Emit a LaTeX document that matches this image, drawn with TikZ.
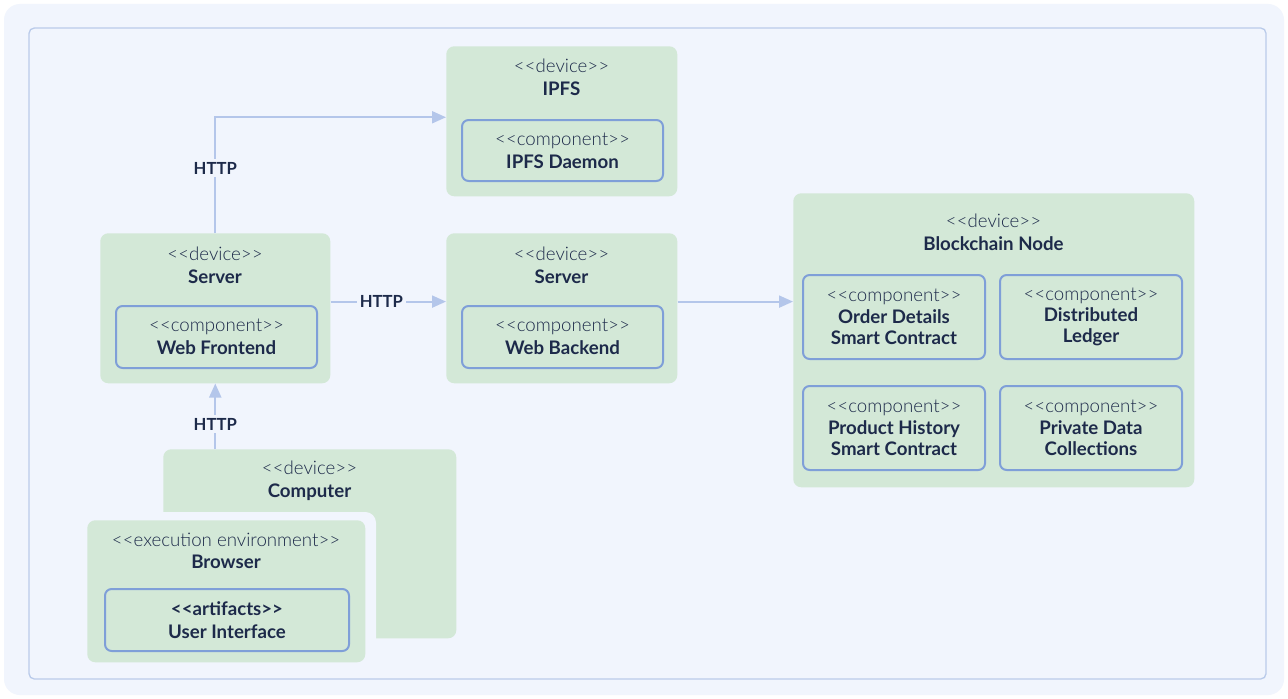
\documentclass[tikz,border=0pt]{standalone}
\usepackage{fontspec}
\setmainfont{Lato}[UprightFont=* Light, BoldFont=* Bold]
\usetikzlibrary{positioning,arrows.meta}

\definecolor{panel}{HTML}{F1F5FD}
\definecolor{frameline}{HTML}{BACBEA}
\definecolor{devfill}{HTML}{D3E8D7}
\definecolor{compline}{HTML}{7F9FD8}
\definecolor{linkblue}{HTML}{B4C6EA}
\definecolor{ink}{HTML}{1D2A4A}

\newcommand\stereo[1]{<{}<#1>{}>}

\tikzset{
    dev/.style={fill=devfill, rounded corners=6pt, inner sep=0pt, anchor=north west},
    comp/.style={draw=compline, line width=1.5pt, fill=devfill, rounded corners=5pt,
        inner sep=0pt, anchor=north west, align=center},
    ttl/.style={align=center},
    tight/.style={font=\fontsize{14}{16}\selectfont},
    link/.style={draw=linkblue, line width=1.5pt, -{Triangle[width=9pt,length=10.5pt]}},
    proto/.style={fill=panel, inner sep=2pt, font=\bfseries\fontsize{12.5}{14}\selectfont}
}

\begin{document}
\begin{tikzpicture}[x=0.75pt, y=-0.75pt, font=\fontsize{14}{17}\selectfont, text=ink]

    \useasboundingbox (0,0) rectangle (1288,699);
    \fill[white] (0,0) rectangle (1288,699);

    % Panel and frame
    \fill[panel, rounded corners=12pt] (4,4) rectangle (1284,695);
    \draw[frameline, line width=1pt, rounded corners=4pt] (29,28) rectangle (1266,679);

    % IPFS
    \node[dev, minimum width=173.25pt, minimum height=112.5pt] (ipfs) at (446,46) {};
    \node[ttl] (ipfsT) at (561.5,77.5) {\stereo{device}\\\textbf{IPFS}};
    \node[comp, minimum width=150.75pt, minimum height=45.75pt] (daemon) at (461,119)
        {\stereo{component}\\\textbf{IPFS Daemon}};

    % Server (frontend)
    \node[dev, minimum width=172.5pt, minimum height=112.5pt] (srvL) at (100,233) {};
    \node[ttl] (srvLT) at (215,265) {\stereo{device}\\\textbf{Server}};
    \node[comp, minimum width=150.75pt, minimum height=46.5pt] (front) at (115,305)
        {\stereo{component}\\\textbf{Web Frontend}};

    % Server (backend)
    \node[dev, minimum width=173.25pt, minimum height=112.5pt] (srvR) at (446,233) {};
    \node[ttl] (srvRT) at (561.5,265) {\stereo{device}\\\textbf{Server}};
    \node[comp, minimum width=150.75pt, minimum height=46.5pt] (back) at (461,305)
        {\stereo{component}\\\textbf{Web Backend}};

    % Blockchain node
    \node[dev, minimum width=300.75pt, minimum height=220.5pt] (chain) at (793,193) {};
    \node[ttl] (chainT) at (993.5,232.5) {\stereo{device}\\\textbf{Blockchain Node}};
    \node[comp, tight, minimum width=136.5pt, minimum height=63pt] (order) at (802,274)
        {\stereo{component}\\\textbf{Order Details}\\\textbf{Smart Contract}};
    \node[comp, tight, minimum width=136.5pt, minimum height=63pt] (ledger) at (999,274)
        {\stereo{component}\\\textbf{Distributed}\\\textbf{Ledger}};
    \node[comp, tight, minimum width=136.5pt, minimum height=63pt] (history) at (802,385)
        {\stereo{component}\\\textbf{Product History}\\\textbf{Smart Contract}};
    \node[comp, tight, minimum width=136.5pt, minimum height=63pt] (private) at (999,385)
        {\stereo{component}\\\textbf{Private Data}\\\textbf{Collections}};

    % Computer and browser
    \node[dev, minimum width=219.75pt, minimum height=141.75pt] (comp) at (163,449) {};
    \node[ttl] (compT) at (309.5,481) {\stereo{device}\\\textbf{Computer}};
    \fill[panel, rounded corners=8pt] (79,512) rectangle (376,670);
    \node[dev, minimum width=208.5pt, minimum height=106.5pt] (browser) at (87,520) {};
    \node[ttl] (browserT) at (226,551) {\stereo{execution environment}\\\textbf{Browser}};
    \node[comp, minimum width=183pt, minimum height=46.5pt] (ui) at (104,588)
        {\textbf{\stereo{artifacts}}\\\textbf{User Interface}};

    % Links
    \draw[link] (srvL.north) |- ([yshift=3pt]ipfs.west) node[proto, pos=0.28] {HTTP};
    \draw[link] ([yshift=5pt]srvL.east) -- ([yshift=5pt]srvR.west) node[proto, pos=0.44] {HTTP};
    \draw[link] ([yshift=5pt]srvR.east) -- ([yshift=5pt]srvR.east -| chain.west);
    \draw[link] (srvL.south |- comp.north) -- (srvL.south) node[proto, pos=0.38] {HTTP};

\end{tikzpicture}
\end{document}
